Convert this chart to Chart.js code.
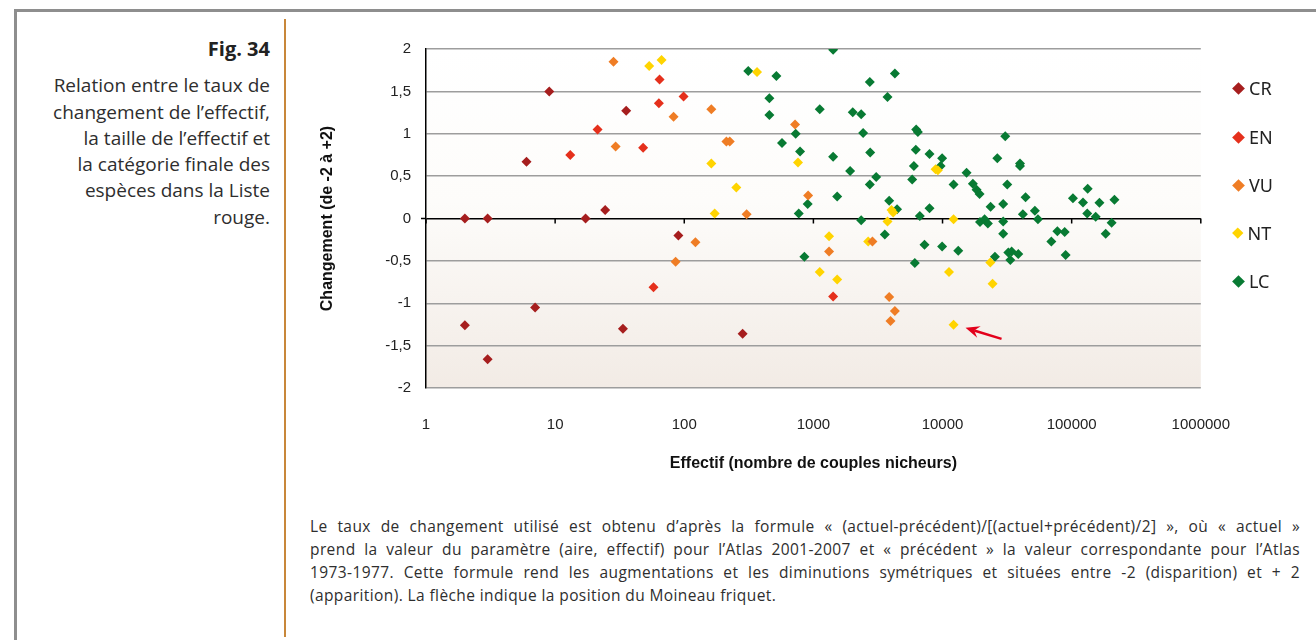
<!DOCTYPE html>
<html lang="fr">
<head>
<meta charset="utf-8">
<title>Fig. 34</title>
<script src="https://cdn.jsdelivr.net/npm/chart.js@4.4.1/dist/chart.umd.min.js"></script>
<style>
  html, body { margin: 0; padding: 0; background: #fff; }
  body { width: 1316px; height: 640px; position: relative; overflow: hidden; font-family: "Open Sans", Lato, sans-serif; }
  #frame { position: absolute; left: 14px; top: 9px; width: 1320px; height: 640px; border-top: 3px solid #8e8e8e; border-left: 3px solid #8e8e8e; }
  #rule { position: absolute; left: 284px; top: 19px; width: 1.5px; height: 618px; background: #c8873a; }
  #side { position: absolute; left: 0px; top: 36px; width: 270px; text-align: right; color: #2e2e2e; font-size: 19px; line-height: 26.3px; }
  #side .fig { font-weight: bold; font-size: 20px; color: #222; margin-bottom: 10px; }
  #chart { position: absolute; left: 300px; top: 25px; }
  .leg { position: absolute; left: 1234px; height: 24px; display: flex; align-items: center; font-family: "Noto Sans", sans-serif; font-size: 18px; color: #222; }
  .leg i { display: inline-block; width: 9px; height: 9px; transform: rotate(45deg); margin-right: 6px; }
  #note { position: absolute; left: 310px; top: 515px; width: 990px; color: #2e2e2e; font-size: 15.5px; letter-spacing: 0.4px; line-height: 23px; }
  #note div { white-space: nowrap; }
  #note .j { text-align: justify; text-align-last: justify; white-space: normal; }
</style>
</head>
<body>
<div id="frame"></div>
<div id="rule"></div>
<div id="side">
  <div class="fig">Fig. 34</div>
  Relation entre le taux de<br>
  changement de l’effectif,<br>
  la taille de l’effectif et<br>
  la catégorie finale des<br>
  espèces dans la Liste<br>
  rouge.
</div>
<canvas id="chart" width="950" height="455"></canvas>
<div id="legend"></div>
<div id="note">
  <div class="j">Le taux de changement utilisé est obtenu d’après la formule « (actuel-précédent)/[(actuel+précédent)/2] », où « actuel »</div>
  <div class="j">prend la valeur du paramètre (aire, effectif) pour l’Atlas 2001-2007 et « précédent » la valeur correspondante pour l’Atlas</div>
  <div class="j">1973-1977. Cette formule rend les augmentations et les diminutions symétriques et situées entre -2 (disparition) et + 2</div>
  <div>(apparition). La flèche indique la position du Moineau friquet.</div>
</div>
<script>
// effectif (x) / changement (y) par catégorie de la Liste rouge
const crX = [2, 3, 9, 6, 35.5, 24.4, 17.2, 90, 7, 2, 33.5, 3, 283];
const crY = [0, 0, 1.5, 0.67, 1.27, 0.1, 0, -0.2, -1.05, -1.26, -1.3, -1.66, -1.36];

const enX = [13.1, 21.3, 48, 64.4, 63.6, 98.8, 57.8, 1422];
const enY = [0.75, 1.05, 0.835, 1.64, 1.36, 1.44, -0.81, -0.92];

const vuX = [29.4, 28.3, 82.6, 85.7, 162, 212, 225, 721, 910, 304, 122, 1322, 2866, 3864, 4276, 3954];
const vuY = [0.85, 1.85, 1.2, -0.51, 1.29, 0.91, 0.91, 1.11, 0.27, 0.05, -0.28, -0.39, -0.27, -0.925, -1.09, -1.21];

const ntX = [53.5, 66.7, 366, 162, 760, 8830, 9200, 253, 4027, 4150, 172, 3749, 1322, 2655, 1120, 1528, 12170, 23440, 11220, 24400, 12170];
const ntY = [1.8, 1.87, 1.73, 0.65, 0.66, 0.58, 0.57, 0.365, 0.1, 0.07, 0.06, -0.035, -0.21, -0.27, -0.63, -0.72, -0.01, -0.52, -0.63, -0.77, -1.255];

const lcX = [1422, 313, 517, 2735, 4276, 456, 3749, 456, 1120, 2018, 2344, 729, 2427, 6250, 6440, 571, 788, 1422,
  2754, 6209, 7925, 6000, 1925, 3063, 2735, 5823, 903, 1528, 3864, 4446, 7925, 770, 6670, 2344, 3572, 851, 7250,
  6100, 9930, 9650, 30600, 26550, 39800, 39800, 15350, 12170, 17180, 18350, 19360, 31700, 23560, 29500, 43970,
  41900, 51880, 102300, 133000, 122400, 164000, 214400, 132100, 153500, 19500, 21170, 22440, 29500, 54800, 29500,
  9930, 13240, 25460, 32300, 34300, 38600, 33500, 89800, 69600, 77500, 88300, 204000, 183500];
const lcY = [1.99, 1.74, 1.68, 1.61, 1.71, 1.42, 1.435, 1.22, 1.29, 1.255, 1.23, 1.0, 1.01, 1.05, 1.02, 0.89, 0.79, 0.73,
  0.78, 0.81, 0.76, 0.62, 0.56, 0.49, 0.4, 0.46, 0.17, 0.26, 0.21, 0.11, 0.12, 0.06, 0.03, -0.02, -0.19, -0.45, -0.31,
  -0.525, 0.71, 0.62, 0.97, 0.71, 0.65, 0.62, 0.54, 0.4, 0.41, 0.34, 0.29, 0.4, 0.14, 0.17, 0.25,
  0.05, 0.09, 0.24, 0.35, 0.19, 0.185, 0.22, 0.06, 0.02, -0.04, -0.01, -0.06, -0.035, -0.01, -0.18,
  -0.33, -0.38, -0.45, -0.4, -0.39, -0.42, -0.49, -0.43, -0.27, -0.15, -0.16, -0.05, -0.18];

const categories = ['CR', 'EN', 'VU', 'NT', 'LC'];
const colors = ['#a61e1e', '#e5301c', '#ef7d25', '#ffd400', '#087a33'];
const xTicks = [1, 10, 100, 1000, 10000, 100000, 1000000];
const yTicks = [-2, -1.5, -1, -0.5, 0, 0.5, 1, 1.5, 2];
// Moineau friquet (point indiqué par la flèche)
const arrowPoint = { x: 12170, y: -1.255 };

const seriesX = [crX, enX, vuX, ntX, lcX];
const seriesY = [crY, enY, vuY, ntY, lcY];

const datasets = categories.map((c, i) => ({
  label: c,
  data: seriesX[i].map((x, j) => ({ x, y: seriesY[i][j] })),
  backgroundColor: colors[i],
  borderWidth: 0,
  pointStyle: 'rectRot',
  pointRadius: 5,
  pointHoverRadius: 5,
}));

// fond dégradé de la zone de tracé
const plotBg = {
  id: 'plotBg',
  beforeDraw(chart) {
    const { ctx, chartArea: a } = chart;
    const g = ctx.createLinearGradient(0, a.top, 0, a.bottom);
    g.addColorStop(0, '#ffffff');
    g.addColorStop(0.45, '#fdfcfa');
    g.addColorStop(1, '#f2ebe5');
    ctx.save();
    ctx.fillStyle = g;
    ctx.fillRect(a.left, a.top, a.right - a.left, a.bottom - a.top);
    ctx.restore();
  },
};

// graduations sur l'axe du zéro
const zeroTicks = {
  id: 'zeroTicks',
  beforeDatasetsDraw(chart) {
    const { ctx, scales: { x, y } } = chart;
    const y0 = y.getPixelForValue(0);
    ctx.save();
    ctx.strokeStyle = '#000';
    ctx.lineWidth = 1.5;
    ctx.beginPath();
    xTicks.forEach(v => {
      const px = x.getPixelForValue(v);
      ctx.moveTo(px, y0);
      ctx.lineTo(px, y0 + 5);
    });
    ctx.moveTo(x.left - 5, y0);
    ctx.lineTo(x.left, y0);
    ctx.stroke();
    ctx.restore();
  },
};

// flèche rouge vers le Moineau friquet
const arrow = {
  id: 'arrow',
  afterDatasetsDraw(chart) {
    const { ctx, scales: { x, y } } = chart;
    const px = x.getPixelForValue(arrowPoint.x);
    const py = y.getPixelForValue(arrowPoint.y);
    const tip = [px + 12, py + 3];
    const tail = [px + 48, py + 14];
    const ang = Math.atan2(tip[1] - tail[1], tip[0] - tail[0]);
    ctx.save();
    ctx.strokeStyle = '#e3001b';
    ctx.fillStyle = '#e3001b';
    ctx.lineWidth = 2.5;
    ctx.beginPath();
    ctx.moveTo(tail[0], tail[1]);
    ctx.lineTo(tip[0] - 9 * Math.cos(ang), tip[1] - 9 * Math.sin(ang));
    ctx.stroke();
    ctx.beginPath();
    ctx.moveTo(tip[0], tip[1]);
    ctx.lineTo(tip[0] - 14 * Math.cos(ang) + 6 * Math.sin(ang), tip[1] - 14 * Math.sin(ang) - 6 * Math.cos(ang));
    ctx.lineTo(tip[0] - 9 * Math.cos(ang), tip[1] - 9 * Math.sin(ang));
    ctx.lineTo(tip[0] - 14 * Math.cos(ang) - 6 * Math.sin(ang), tip[1] - 14 * Math.sin(ang) + 6 * Math.cos(ang));
    ctx.closePath();
    ctx.fill();
    ctx.restore();
  },
};

const tickFont = { family: '"Liberation Sans", Arial, sans-serif', size: 15 };
const titleFont = { family: '"Liberation Sans", Arial, sans-serif', size: 16, weight: 'bold' };

new Chart(document.getElementById('chart'), {
  type: 'scatter',
  data: { datasets },
  options: {
    responsive: false,
    animation: false,
    events: [],
    layout: { padding: { top: 13, right: 40, bottom: 4, left: 0 } },
    plugins: { legend: { display: false }, tooltip: { enabled: false } },
    scales: {
      x: {
        type: 'logarithmic',
        min: 1,
        max: 1000000,
        afterBuildTicks: s => { s.ticks = xTicks.map(v => ({ value: v })); },
        afterFit: s => { s.height = 88; },
        grid: { display: false },
        border: { display: false },
        ticks: { font: tickFont, color: '#222', padding: 20, maxRotation: 0, callback: v => String(v) },
        title: { display: true, text: 'Effectif (nombre de couples nicheurs)', font: titleFont, color: '#111', padding: { top: 0, bottom: 3 } },
      },
      y: {
        min: -2,
        max: 2,
        afterBuildTicks: s => { s.ticks = yTicks.map(v => ({ value: v })); },
        afterFit: s => { s.width = 126; },
        grid: {
          drawTicks: false,
          color: c => (c.tick && c.tick.value === 0 ? '#000' : '#9d9d9d'),
          lineWidth: 1.5,
        },
        border: { display: true, color: '#000', width: 1.5 },
        ticks: { font: tickFont, color: '#222', padding: 15, callback: v => String(v).replace('.', ',') },
        title: { display: true, text: 'Changement (de -2 à +2)', font: titleFont, color: '#111', padding: { top: 18 } },
      },
    },
  },
  plugins: [plotBg, zeroTicks, arrow],
});

// légende
const legendTops = [76, 125, 173, 221, 269];
const legendSizes = [9, 9, 9, 7.5, 9];
document.getElementById('legend').innerHTML = categories.map((c, i) =>
  `<div class="leg" style="top:${legendTops[i]}px"><i style="background:${colors[i]};width:${legendSizes[i]}px;height:${legendSizes[i]}px"></i>${c}</div>`
).join('');
</script>
</body>
</html>
